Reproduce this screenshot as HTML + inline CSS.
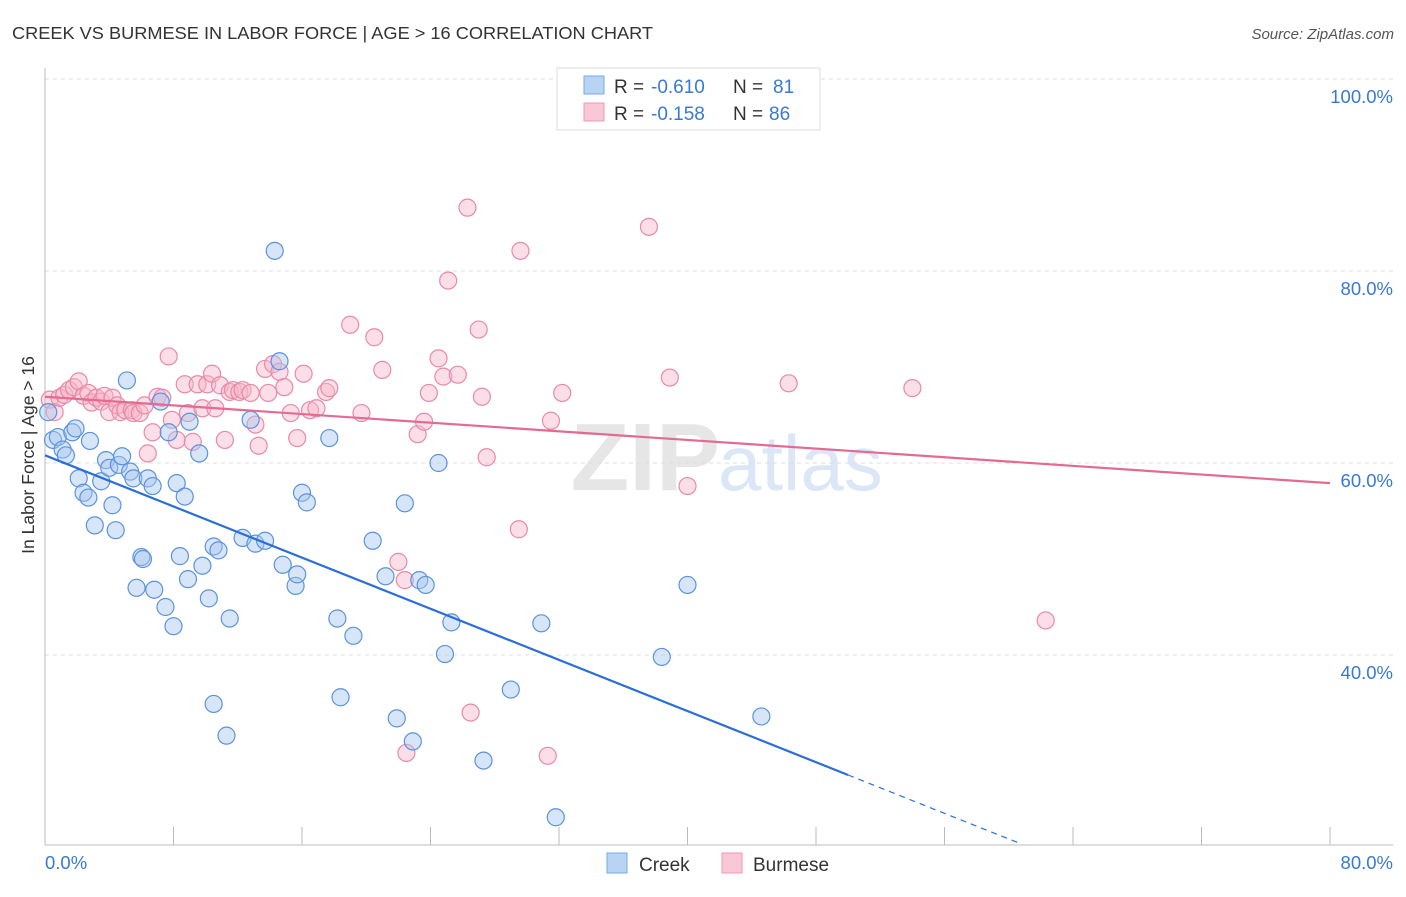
<!DOCTYPE html>
<html><head><meta charset="utf-8"><style>
body{margin:0;background:#fff;font-family:"Liberation Sans",sans-serif;}
svg text{font-family:"Liberation Sans",sans-serif;}
</style></head><body>
<svg id="chart" width="1406" height="892">
<text x="12" y="39" font-size="17.5" fill="#333" textLength="641" lengthAdjust="spacingAndGlyphs">CREEK VS BURMESE IN LABOR FORCE | AGE &gt; 16 CORRELATION CHART</text>
<text x="1394" y="39" font-size="15" fill="#555" font-style="italic" text-anchor="end">Source: ZipAtlas.com</text>
<text x="720" y="490" font-size="96" fill="#e6e6e6" font-family="Liberation Serif" text-anchor="end" font-weight="bold">ZIP</text>
<text x="718" y="490" font-size="78" fill="#dbe7f6">atlas</text>
<g id="grid"></g><g id="axes"></g><g id="pts"></g><g id="lines"></g>
<text x="34" y="455" font-size="17.5" fill="#333" text-anchor="middle" transform="rotate(-90 34 455)">In Labor Force | Age &gt; 16</text>
<g>
<rect x="557" y="68" width="263" height="62" fill="#fff" stroke="#ddd"/>
<rect x="584" y="76" width="20" height="18" fill="#b8d4f4" stroke="#7aa8e4"/>
<text y="93" font-size="19" fill="#333"><tspan x="614">R =</tspan><tspan x="651" fill="#3a78d6">-0.610</tspan><tspan x="733">N =</tspan><tspan x="773" fill="#3a78d6">81</tspan></text>
<rect x="584" y="103" width="20" height="18" fill="#f9c8d6" stroke="#eb9ab4"/>
<text y="120" font-size="19" fill="#333"><tspan x="614">R =</tspan><tspan x="651" fill="#3a78d6">-0.158</tspan><tspan x="733">N =</tspan><tspan x="769" fill="#3a78d6">86</tspan></text>
</g>
<g>
<rect x="607" y="853" width="20" height="20" fill="#b8d4f4" stroke="#7aa8e4"/>
<text x="639" y="871" font-size="19" fill="#333">Creek</text>
<rect x="722" y="853" width="20" height="20" fill="#f9c8d6" stroke="#eb9ab4"/>
<text x="753" y="871" font-size="19" fill="#333">Burmese</text>
</g>
<text x="45" y="869" font-size="18.5" fill="#3a78d6">0.0%</text>
<text x="1393" y="869" font-size="18.5" fill="#3a78d6" text-anchor="end">80.0%</text>
</svg>
<script>
const yTicks=[100,80,60,40];
const xTickVals=[0,8,16,24,32,40,48,56,64,72,80];
const creekX=[0.5,0.8,1.1,1.3,1.7,1.9,2.1,2.4,2.7,2.8,3.1,3.5,3.8,4.0,4.2,4.4,4.6,4.8,5.1,5.3,5.5,5.7,6.0,6.1,6.4,6.7,6.8,7.2,7.5,7.7,8.0,8.2,8.4,8.7,8.9,9.0,9.6,9.8,10.2,10.5,10.5,10.8,11.3,11.5,12.3,12.8,13.1,13.7,14.3,14.6,14.8,15.6,15.7,16.0,16.3,17.7,18.2,18.4,19.2,20.4,21.2,21.9,22.4,22.9,23.3,23.7,24.5,24.9,25.3,27.3,29.0,30.9,31.8,38.4,40.0,44.6,0.2];
const creekY=[62.4,62.7,61.4,60.8,63.2,63.6,58.4,56.9,56.4,62.3,53.5,58.1,60.3,59.5,55.6,53.0,59.8,60.7,68.6,59.1,58.4,47.0,50.2,50.0,58.4,57.6,46.8,66.4,45.0,63.2,43.0,57.9,50.3,56.5,47.9,64.3,61.0,49.3,45.9,34.9,51.3,50.9,31.6,43.8,52.2,64.5,51.6,51.9,82.1,70.6,49.4,47.2,48.4,56.9,55.9,62.6,43.8,35.6,42.0,51.9,48.2,33.4,55.8,31.0,47.8,47.3,60.0,40.1,43.4,29.0,36.4,43.3,23.1,39.8,47.3,33.6,65.3];
const burX=[0.3,0.6,0.9,1.2,1.5,1.8,2.1,2.4,2.7,2.9,3.2,3.5,3.7,4.0,4.2,4.5,4.7,5.0,5.4,5.5,5.9,6.2,6.4,6.7,7.0,7.3,7.7,7.9,8.2,8.7,8.9,9.2,9.5,9.8,10.1,10.4,10.6,10.9,11.2,11.5,11.7,12.1,12.3,12.8,13.1,13.3,13.7,13.9,14.2,14.6,14.9,15.3,15.7,16.1,16.5,16.9,17.5,17.7,19.0,19.7,20.5,21.0,22.0,22.4,23.2,23.6,23.9,24.5,24.8,25.1,25.7,26.3,27.0,27.2,27.5,29.5,29.6,31.3,31.5,32.2,37.6,38.9,40.0,46.3,54.0,62.3,26.5,22.5];
const burY=[66.6,65.3,66.8,67.1,67.6,67.9,68.5,67.0,67.3,66.3,66.8,66.4,67.0,65.3,66.8,66.0,65.3,65.5,65.5,65.2,65.2,66.0,61.0,63.2,66.9,66.8,71.1,64.5,62.4,68.2,65.2,62.2,68.2,65.7,68.2,69.3,65.7,68.1,62.4,67.4,67.6,67.4,67.6,67.3,64.0,61.8,69.8,67.3,70.3,69.5,67.9,65.2,62.6,69.3,65.5,65.7,67.4,67.8,74.4,65.2,73.1,69.7,49.7,47.8,63.0,64.3,67.3,70.9,69.0,79.0,69.2,86.6,73.9,66.9,60.6,53.1,82.1,29.5,64.4,67.3,84.6,68.9,57.6,68.3,67.8,43.6,34.0,29.8];
const creekTrend=[60.8,-0.666]; // intercept, slope
const burTrend=[66.9,-0.1125];
const ns="http://www.w3.org/2000/svg";
const X=v=>45+v*1285/80, Y=v=>79+(100-v)*9.6;
function mk(t,a,p){const e=document.createElementNS(ns,t);for(const k in a)e.setAttribute(k,a[k]);p.appendChild(e);return e;}
const grid=document.getElementById('grid'),axes=document.getElementById('axes');
yTicks.forEach(t=>{
 const l=mk('line',{x1:45,x2:1393,y1:Y(t),y2:Y(t),stroke:'#ddd','stroke-dasharray':'4,4'},grid);
 
 
 const tx=mk('text',{x:1393,y:Y(t)+24,'font-size':18.5,fill:'#3a78d6','text-anchor':'end'},grid);
 tx.textContent=t.toFixed(1)+'%';
 
 
});
const ax=mk('line',{x1:45,x2:1393,y1:845,y2:845,stroke:'#bbb'},axes);


const ay=mk('line',{x1:45,x2:45,y1:68,y2:845,stroke:'#bbb'},axes);


xTickVals.forEach(t=>{
 const l=mk('line',{x1:X(t),x2:X(t),y1:827,y2:845,stroke:'#bbb'},axes);
 
 
});
const pts=document.getElementById('pts');
function dots(xs,ys,fill,stroke,name){
 xs.forEach((x,i)=>{
  const c=mk('circle',{cx:X(x),cy:Y(ys[i]),r:8.5,fill:fill,'fill-opacity':0.45,stroke:stroke,'stroke-width':1.2},pts);
  
  
 });
}
dots(burX,burY,'#f7b6ca','#e88aa8','burmese-point');
dots(creekX,creekY,'#a6c6f0','#5b93dd','creek-point');
const lines=document.getElementById('lines');
const f=(tr,x)=>tr[0]+tr[1]*x;
let l1=mk('line',{x1:X(0),y1:Y(f(creekTrend,0)),x2:X(50),y2:Y(f(creekTrend,50)),stroke:'#2a6fd8','stroke-width':2.2},lines);


let l2=mk('line',{x1:X(50),y1:Y(f(creekTrend,50)),x2:X(60.8),y2:Y(f(creekTrend,60.8)),stroke:'#2a6fd8','stroke-width':1.2,'stroke-dasharray':'6,5'},lines);


let l3=mk('line',{x1:X(0),y1:Y(f(burTrend,0)),x2:X(80),y2:Y(f(burTrend,80)),stroke:'#e46a94','stroke-width':2.2},lines);


</script>
</body></html>
